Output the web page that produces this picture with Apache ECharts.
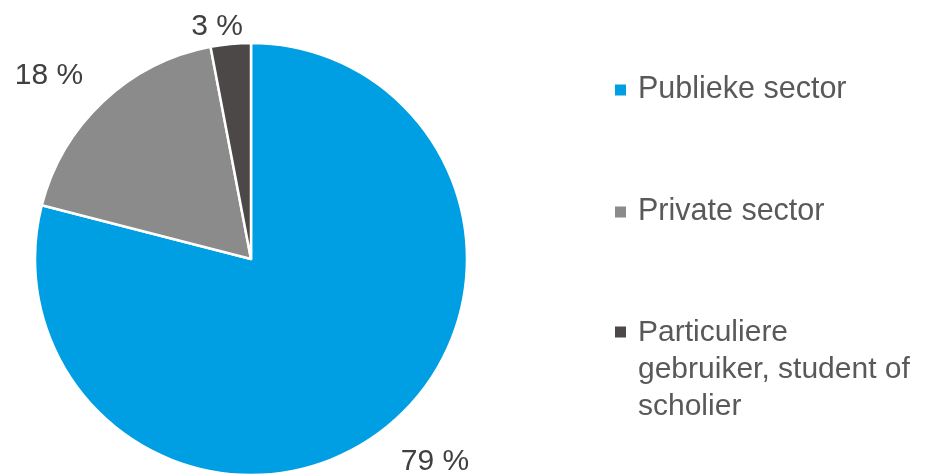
<!DOCTYPE html>
<html>
<head>
<meta charset="utf-8">
<script src="https://cdn.jsdelivr.net/npm/echarts@6/dist/echarts.min.js"></script>
<style>
html,body{margin:0;padding:0;background:#fff;}
#chart{width:935px;height:474px;}
</style>
</head>
<body>
<div id="chart"></div>
<script>
var categories = ['Publieke sector', 'Private sector', 'Particuliere gebruiker, student of scholier'];
var values = [79, 18, 3];
var colors = ['#009FE3', '#8C8B8B', '#4B4847'];
var legendLines = {
  'Particuliere gebruiker, student of scholier': 'Particuliere\ngebruiker, student of\nscholier'
};

var labelPos = [[435, 462], [49, 76], [217, 27]];

var chart = echarts.init(document.getElementById('chart'), null, {renderer: 'canvas'});
var font = '"Liberation Sans", Arial, sans-serif';

var data = categories.map(function (c, i) {
  return {name: c, value: values[i], itemStyle: {color: colors[i]}};
});

chart.setOption({
  animation: false,
  legend: [
    {
      orient: 'vertical',
      left: 615,
      top: 72,
      padding: 0,
      itemWidth: 11,
      itemHeight: 11,
      itemGap: 86,
      icon: 'rect',
      data: [categories[0], categories[1]],
      itemStyle: {borderWidth: 0},
      textStyle: {fontFamily: font, fontSize: 30.5, color: '#595959', lineHeight: 36, padding: [0, 0, 0, 7]},
      selectedMode: false
    },
    {
      orient: 'vertical',
      left: 615,
      top: 314,
      padding: 0,
      itemWidth: 11,
      itemHeight: 86,
      data: [{name: categories[2], icon: 'path://M0,0L11,0L11,11L0,11ZM0,86L11,86Z'}],
      itemStyle: {borderWidth: 0},
      formatter: function (n) { return legendLines[n] || n; },
      textStyle: {fontFamily: font, fontSize: 30, color: '#595959', lineHeight: 37, padding: [0, 0, 0, 7]},
      selectedMode: false
    }
  ],
  series: [{
    type: 'pie',
    center: [251, 259],
    radius: 216,
    startAngle: 90,
    clockwise: true,
    data: data,
    itemStyle: {borderColor: '#ffffff', borderWidth: 2.5},
    label: {
      show: true,
      position: 'outside',
      alignTo: 'none',
      overflow: 'none',
      bleedMargin: 0,
      formatter: '{c} %',
      fontFamily: font,
      fontSize: 30,
      color: '#404040'
    },
    labelLine: {show: false},
    labelLayout: function (p) {
      return {x: labelPos[p.dataIndex][0], y: labelPos[p.dataIndex][1], align: 'center', verticalAlign: 'middle', width: 200};
    },
    emphasis: {disabled: true}
  }]
});
</script>
</body>
</html>
